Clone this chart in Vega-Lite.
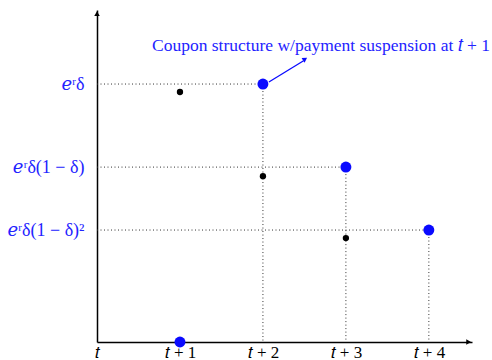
{
  "$schema": "https://vega.github.io/schema/vega-lite/v6.json",
  "width": 375,
  "height": 332,
  "autosize": {"type": "none"},
  "padding": {"left": 97, "top": 10, "right": 20, "bottom": 18},
  "background": "white",
  "config": {"view": {"stroke": null}, "font": "Liberation Serif"},
  "datasets": {
    "guides": [
      {"x": 0, "y": 1, "x2": 2, "y2": 1},
      {"x": 2, "y": 1, "x2": 2, "y2": 0},
      {"x": 0, "y": 0.678, "x2": 3, "y2": 0.678},
      {"x": 3, "y": 0.678, "x2": 3, "y2": 0},
      {"x": 0, "y": 0.434, "x2": 4, "y2": 0.434},
      {"x": 4, "y": 0.434, "x2": 4, "y2": 0}
    ],
    "black": [
      {"x": 1, "y": 0.969},
      {"x": 2, "y": 0.643},
      {"x": 3, "y": 0.403}
    ],
    "blue": [
      {"x": 1, "y": 0},
      {"x": 2, "y": 1},
      {"x": 3, "y": 0.678},
      {"x": 4, "y": 0.434}
    ],
    "arrow": [
      {"x": 2.072, "y": 1.008, "x2": 2.49, "y2": 1.09}
    ],
    "heads": [
      {"x": 2.5, "y": 1.095, "angle": 57, "kind": "blue"},
      {"x": 4.47, "y": 0, "angle": 90, "kind": "black"},
      {"x": 0, "y": 1.27, "angle": 0, "kind": "black"}
    ],
    "note": [
      {"x": 0.663, "y": 1.128, "label": "Coupon structure w/payment suspension at 𝑡 + 1"}
    ]
  },
  "layer": [
    {
      "data": {"name": "guides"},
      "mark": {"type": "rule", "strokeDash": [1, 2.5], "color": "#333333", "strokeWidth": 1},
      "encoding": {
        "x": {
          "field": "x", "type": "quantitative",
          "scale": {"domain": [0, 4.52], "nice": false, "zero": false},
          "axis": {
            "values": [0, 1, 2, 3, 4],
            "labelExpr": "datum.value == 0 ? '𝑡' : '𝑡 + ' + format(datum.value, 'd')",
            "title": null, "ticks": false, "grid": false,
            "domainColor": "black", "domainWidth": 1.5,
            "labelFont": "Liberation Serif",
            "labelFontSize": 17, "labelColor": "black", "labelPadding": 2,
            "labelFlush": false, "labelOverlap": false
          }
        },
        "y": {
          "field": "y", "type": "quantitative",
          "scale": {"domain": [0, 1.287], "nice": false, "zero": false},
          "axis": {
            "values": [0.434, 0.678, 1],
            "labelExpr": "datum.value == 1 ? '𝑒ʳδ' : datum.value > 0.6 ? '𝑒ʳδ(1 − δ)' : '𝑒ʳδ(1 − δ)²'",
            "title": null, "ticks": false, "grid": false,
            "domainColor": "black", "domainWidth": 1.5,
            "labelFont": "Liberation Serif, DejaVu Serif", "labelFontSize": 18,
            "labelColor": "#2323ff", "labelPadding": 13,
            "labelOverlap": false
          }
        },
        "x2": {"field": "x2"},
        "y2": {"field": "y2"}
      }
    },
    {
      "data": {"name": "black"},
      "mark": {"type": "point", "shape": "circle", "filled": true, "size": 40, "color": "black", "opacity": 1},
      "encoding": {
        "x": {"field": "x", "type": "quantitative"},
        "y": {"field": "y", "type": "quantitative"}
      }
    },
    {
      "data": {"name": "blue"},
      "mark": {"type": "point", "shape": "circle", "filled": true, "size": 120, "color": "#0a0aff", "opacity": 1},
      "encoding": {
        "x": {"field": "x", "type": "quantitative"},
        "y": {"field": "y", "type": "quantitative"}
      }
    },
    {
      "data": {"name": "arrow"},
      "mark": {"type": "rule", "color": "#0a0aff", "strokeWidth": 1.3},
      "encoding": {
        "x": {"field": "x", "type": "quantitative"},
        "y": {"field": "y", "type": "quantitative"},
        "x2": {"field": "x2"},
        "y2": {"field": "y2"}
      }
    },
    {
      "data": {"name": "heads"},
      "mark": {"type": "point", "shape": "triangle", "filled": true, "size": 30, "opacity": 1},
      "encoding": {
        "x": {"field": "x", "type": "quantitative"},
        "y": {"field": "y", "type": "quantitative"},
        "angle": {"field": "angle", "type": "quantitative", "scale": null},
        "color": {"field": "kind", "type": "nominal", "scale": {"domain": ["blue", "black"], "range": ["#0a0aff", "black"]}, "legend": null}
      }
    },
    {
      "data": {"name": "note"},
      "mark": {"type": "text", "align": "left", "baseline": "alphabetic", "font": "Liberation Serif", "fontSize": 17.5, "color": "#2323ff"},
      "encoding": {
        "x": {"field": "x", "type": "quantitative"},
        "y": {"field": "y", "type": "quantitative"},
        "text": {"field": "label"}
      }
    }
  ]
}
